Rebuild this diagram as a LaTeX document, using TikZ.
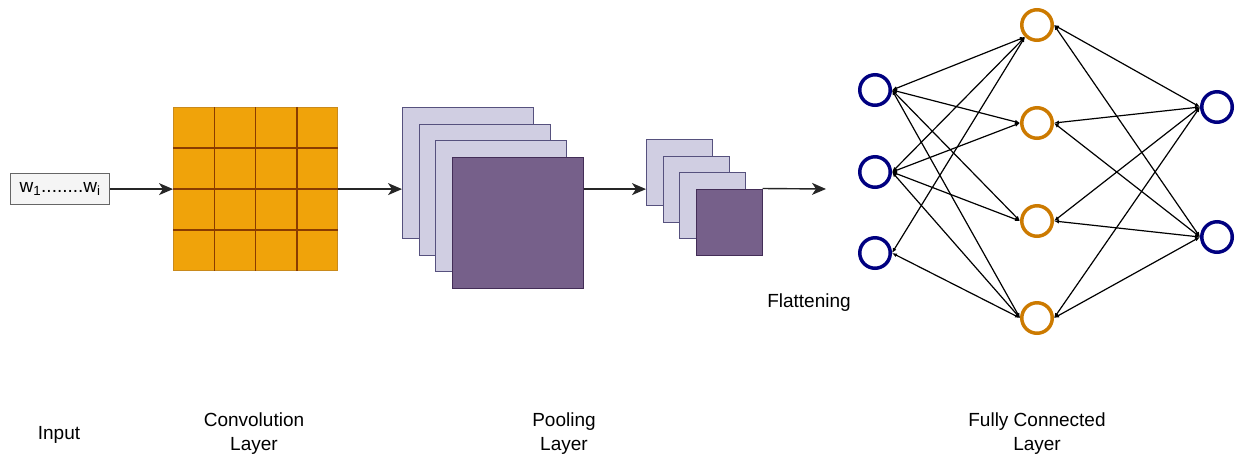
\documentclass[tikz,border=0pt]{standalone}
\usepackage{fontspec}
\setmainfont{Liberation Sans}
\usetikzlibrary{arrows.meta,calc}
\definecolor{navy}{HTML}{000080}
\definecolor{hidc}{HTML}{CC7A00}
\definecolor{convfill}{HTML}{F0A30A}
\definecolor{convedge}{HTML}{C98A1C}
\definecolor{convin}{HTML}{8A3C00}
\definecolor{lightfill}{HTML}{D0CEE2}
\definecolor{lightedge}{HTML}{56517E}
\definecolor{darkfill}{HTML}{76608A}
\definecolor{darkedge}{HTML}{432D57}
\definecolor{boxfill}{HTML}{F5F5F5}
\definecolor{boxedge}{HTML}{666666}
\begin{document}
\begin{tikzpicture}[x=1pt,y=-1pt,
  lbl/.style={font=\fontsize{19}{24}\selectfont, align=center, inner sep=0pt},
  flow/.style={line width=1.4pt, draw=black!85, -{Stealth[length=14pt,width=12pt,inset=4pt]}},
  sqbig/.style={draw=lightedge, fill=lightfill, line width=1.2pt, minimum size=131pt, inner sep=0pt, anchor=north west},
  sqbigd/.style={sqbig, draw=darkedge, fill=darkfill},
  sqsmall/.style={sqbig, minimum size=66pt},
  sqsmalld/.style={sqsmall, draw=darkedge, fill=darkfill},
  neur/.style={circle, draw=navy, line width=3.5pt, minimum size=30.5pt, inner sep=0pt},
  hid/.style={neur, draw=hidc},
  conn/.style={line width=1.2pt, {Latex[length=5pt,width=4pt]}-{Latex[length=5pt,width=4pt]}}
]
\useasboundingbox (0,0) rectangle (1236,459);

% input box
\node[draw=boxedge, fill=boxfill, line width=1.2pt, minimum width=99pt, minimum height=31pt, inner sep=0pt, anchor=north west,
      font=\fontsize{19}{24}\selectfont] (inp) at (10,173) {w\textsubscript{1}........w\textsubscript{i}};

% convolution grid
\node[draw=convedge, fill=convfill, line width=1.2pt, minimum width=164pt, minimum height=163pt, inner sep=0pt, anchor=north west] (conv) at (173,107) {};
\foreach \k in {1,2,3}{
  \draw[convin, line width=1.5pt] ($(conv.north west)!\k/4!(conv.north east)$) -- ($(conv.south west)!\k/4!(conv.south east)$);
  \draw[convin, line width=1.5pt] ($(conv.north west)!\k/4!(conv.south west)$) -- ($(conv.north east)!\k/4!(conv.south east)$);
}

% pooling stack
\node[sqbig] (p1) at (402,107) {};
\node[sqbig] (p2) at (418.5,123.5) {};
\node[sqbig] (p3) at (435,140) {};
\node[sqbigd] (p4) at (451.5,156.5) {};

% small stack
\node[sqsmall] (s1) at (646,139) {};
\node[sqsmall] (s2) at (662.5,155.5) {};
\node[sqsmall] (s3) at (679,172) {};
\node[sqsmalld] (s4) at (695.5,188.5) {};
\coordinate (flatend) at (826,189);

% flow arrows
\draw[flow] (inp.east) -- (inp.east -| conv.west);
\draw[flow] (conv.east |- inp.east) -- (inp.east -| p1.west);
\draw[flow] (p4.east |- inp.east) -- (inp.east -| s1.west);
\draw[flow] (s4.north east) -- (flatend);

% neurons
\node[neur] (i1) at (875,90) {};
\node[neur] (i2) at (875,172) {};
\node[neur] (i3) at (875,253) {};
\node[hid] (h1) at (1037,25) {};
\node[hid] (h2) at (1037,123) {};
\node[hid] (h3) at (1037,221) {};
\node[hid] (h4) at (1037,318) {};
\node[neur] (o1) at (1217,107) {};
\node[neur] (o2) at (1217,237) {};

% connections input -> hidden
\foreach \i in {i1,i2}{
  \draw[conn] (\i.east) -- (h1.south west);
  \draw[conn] (\i.east) -- (h2.west);
  \draw[conn] (\i.east) -- (h3.west);
  \draw[conn] (\i.east) -- (h4.west);
}
\draw[conn] (i3.east) -- (h1.south west);
\draw[conn] (i3.east) -- (h4.west);
% hidden -> output
\foreach \h in {h1,h2,h3,h4}{
  \draw[conn] (\h.east) -- (o1.west);
  \draw[conn] (\h.east) -- (o2.west);
}

% labels
\node[lbl] (tflat) at (809,303) {Flattening};
\node[lbl] (tin) at (59,435) {Input};
\node[lbl] (tconv) at (254,434) {Convolution\\Layer};
\node[lbl] (tpool) at (564,434) {Pooling\\Layer};
\node[lbl] (tfc) at (1037,434) {Fully Connected\\Layer};
\end{tikzpicture}
\end{document}
